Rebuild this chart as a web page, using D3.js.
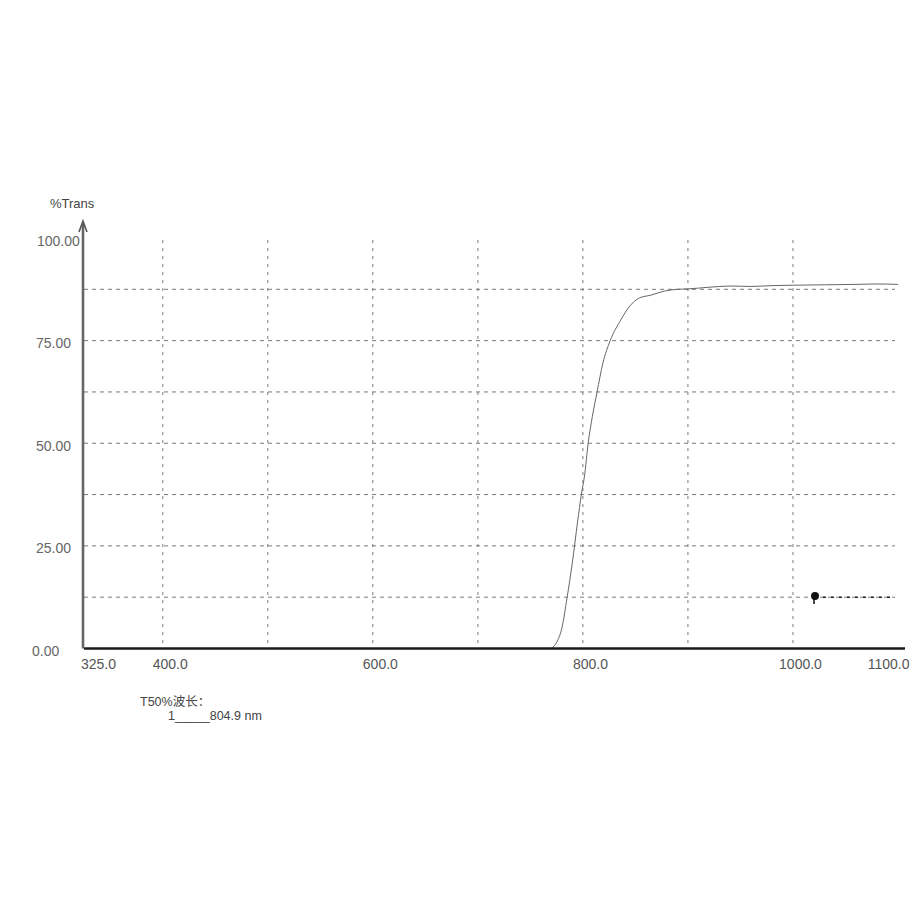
<!DOCTYPE html>
<html>
<head>
<meta charset="utf-8">
<script src="https://cdn.jsdelivr.net/npm/d3@7"></script>
<style>
  body { margin: 0; background: #fff; }
  svg { display: block; font-family: "Liberation Sans", Arial, "Noto Sans CJK SC", sans-serif; }
</style>
</head>
<body>
<div id="chart"></div>
<script>
// spectrum
const wavelength = [770, 775, 780, 785, 790, 795, 798.5, 801.5, 805, 809, 813.5, 819, 826, 836, 844, 853, 865, 878, 890, 900, 920, 940, 960, 980, 1000, 1030, 1060, 1080, 1100];
const transmittance = [0, 1.5, 5, 12.5, 21, 31, 37.5, 42, 50, 56.5, 62.5, 69.5, 75, 80, 83.2, 85.3, 86.1, 87.1, 87.5, 87.6, 88.0, 88.3, 88.2, 88.4, 88.5, 88.6, 88.7, 88.8, 88.7];

const xTicks = [325, 400, 600, 800, 1000, 1100];
const xGrid = [400, 500, 600, 700, 800, 900, 1000];
const yTicks = [0, 25, 50, 75, 100];
const yGrid = [12.5, 25, 37.5, 50, 62.5, 75, 87.5];

const markerWl = [1021];
const markerT = [12.8];

const t50Label = "T50%波长：";
const t50Value = "1_____804.9 nm";

(() => {
    const width = 911, height = 911;

    const svg = d3.select("#chart").append("svg")
        .attr("width", width)
        .attr("height", height);

    const x = d3.scaleLinear().domain([325, 1100]).range([84, 898]);
    const y = d3.scaleLinear().domain([0, 100]).range([648.5, 238]);

    // grid
    svg.append("g").selectAll("line")
        .data(xGrid)
        .enter().append("line")
        .attr("x1", d => x(d)).attr("x2", d => x(d))
        .attr("y1", y(99.5)).attr("y2", y(0))
        .attr("stroke", "#7a7a7a")
        .attr("stroke-width", 1)
        .attr("stroke-dasharray", "3,5");

    svg.append("g").selectAll("line")
        .data(yGrid)
        .enter().append("line")
        .attr("x1", x(325)).attr("x2", 895)
        .attr("y1", d => y(d)).attr("y2", d => y(d))
        .attr("stroke", "#7a7a7a")
        .attr("stroke-width", 1)
        .attr("stroke-dasharray", "4,4");

    // cursor line at the marker, darker than the grid
    svg.append("line")
        .attr("x1", x(markerWl[0])).attr("x2", 895)
        .attr("y1", y(12.5)).attr("y2", y(12.5))
        .attr("stroke", "#222")
        .attr("stroke-width", 1.6)
        .attr("stroke-dasharray", "3,5");

    // curve
    const pts = wavelength.map((w, i) => [w, transmittance[i]]);
    svg.append("path")
        .datum(pts)
        .attr("fill", "none")
        .attr("stroke", "#666")
        .attr("stroke-width", 1)
        .attr("d", d3.line().x(d => x(d[0])).y(d => y(d[1])).curve(d3.curveMonotoneX));

    // x axis
    const xAxis = svg.append("g")
        .attr("transform", `translate(0,${y(0)})`)
        .call(d3.axisBottom(x).tickValues(xTicks).tickSize(0).tickPadding(11).tickFormat(d3.format(".1f")));
    xAxis.select(".domain").remove();
    xAxis.selectAll("text")
        .attr("fill", "#555")
        .style("font-size", "14px")
        .attr("text-anchor", d => d === 1100 ? "end" : "middle")
        .attr("dx", d => d === 325 ? 14 : (d === 1100 ? 11 : 7));
    svg.append("line")
        .attr("x1", x(325)).attr("x2", 905)
        .attr("y1", y(0)).attr("y2", y(0))
        .attr("stroke", "#1a1a1a")
        .attr("stroke-width", 2.5);

    // y axis
    const yAxis = svg.append("g")
        .attr("transform", `translate(34,0)`)
        .call(d3.axisLeft(y).tickValues(yTicks).tickSize(0).tickPadding(0).tickFormat(d3.format(".2f")));
    yAxis.select(".domain").remove();
    yAxis.selectAll("text")
        .attr("text-anchor", "start")
        .attr("x", d => d === 0 ? -2 : (d === 100 ? 3 : 2))
        .attr("dy", "0.5em")
        .attr("fill", "#666")
        .style("font-size", "14px");
    svg.append("line")
        .attr("x1", x(325) - 1).attr("x2", x(325) - 1)
        .attr("y1", y(0)).attr("y2", 224)
        .attr("stroke", "#666")
        .attr("stroke-width", 2.6);
    svg.append("path")
        .attr("d", `M${x(325) - 5},${232} L${x(325) - 1},${221} L${x(325) + 3},${232}`)
        .attr("fill", "none")
        .attr("stroke", "#555")
        .attr("stroke-width", 1.6);

    svg.append("text")
        .attr("x", 50).attr("y", 208)
        .attr("fill", "#444")
        .style("font-size", "13px")
        .text("%Trans");

    // marker
    svg.append("g").selectAll("circle")
        .data(markerWl)
        .enter().append("circle")
        .attr("cx", (d, i) => x(d))
        .attr("cy", (d, i) => y(markerT[i]))
        .attr("r", 4)
        .attr("fill", "#111");
    svg.append("line")
        .attr("x1", x(markerWl[0]) - 1).attr("x2", x(markerWl[0]) - 1)
        .attr("y1", y(markerT[0])).attr("y2", y(markerT[0]) + 8)
        .attr("stroke", "#111")
        .attr("stroke-width", 1.5);

    // T50 note
    svg.append("text")
        .attr("x", 140).attr("y", 706)
        .attr("fill", "#444")
        .style("font-size", "12.5px")
        .text(t50Label);
    svg.append("text")
        .attr("x", 168).attr("y", 720)
        .attr("fill", "#444")
        .style("font-size", "12.5px")
        .text(t50Value);
})();
</script>
</body>
</html>
